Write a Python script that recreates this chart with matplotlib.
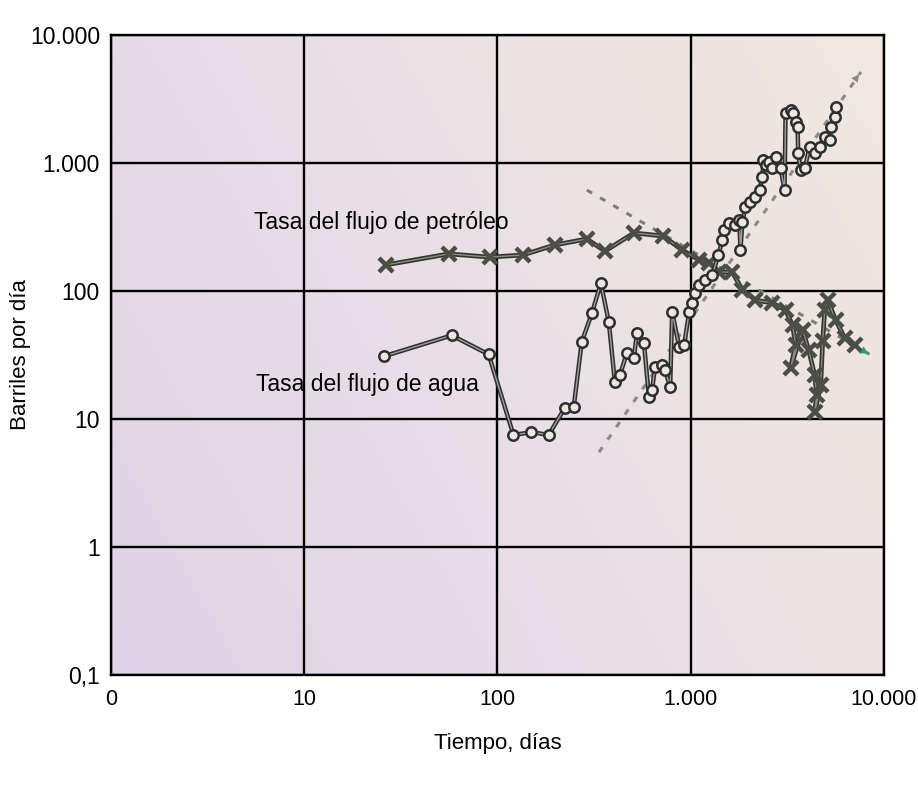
import matplotlib
matplotlib.use("Agg")
import matplotlib.pyplot as plt
import numpy as np
from matplotlib.colors import LinearSegmentedColormap

plt.rcParams['font.family'] = ['Liberation Sans', 'DejaVu Sans']

# tasa de agua (dias, bbl/d)
agua_dias = [26, 58, 90, 121, 150, 184, 223, 248, 273, 308, 343, 377, 405, 430,
             468, 508, 527, 573, 608, 631, 654, 711, 737, 783, 802, 872, 925,
             982, 1018, 1055, 1107, 1189, 1294, 1390, 1459, 1493, 1585, 1703,
             1786, 1808, 1852, 1919, 2037, 2163, 2270, 2351, 2380, 2466, 2556,
             2650, 2747, 2916, 3059, 3097, 3288, 3367, 3490, 3574, 3600, 3705,
             3890, 4128, 4382, 4652, 4939, 5241, 5306, 5564, 5631]
agua_bpd = [31, 45, 32, 7.5, 7.9, 7.5, 12.2, 12.4, 40, 67, 115, 57, 19.5, 22,
            33, 30, 47, 39, 14.9, 16.9, 25.5, 26.4, 24, 17.8, 68.5, 36.5, 37.8,
            68.5, 80, 96, 111, 122, 133, 191, 250, 300, 340, 328,
            359, 209, 346, 453, 496, 542, 615, 778, 1055, 965, 1018,
            914, 1113, 914, 615, 2458, 2594, 2458, 2090, 1910, 1197, 881,
            914, 1334, 1197, 1334, 1597, 1513, 1910, 2288, 2738]

# tasa de petroleo (dias, bbl/d)
pet_dias = [26.5, 56, 91, 135, 198, 290, 360, 508, 720, 903, 1107, 1247, 1406,
            1643, 1852, 2163, 2650, 3097, 3367, 3490, 3288, 3795, 4077, 4382,
            4487, 4382, 4707, 4821, 4939, 5118, 5631, 6268, 7064]
pet_bpd = [160, 195, 184, 191, 229, 255, 205, 284, 269, 209, 175, 166, 141,
           140, 102, 85, 80.5, 71, 54, 38, 25, 50, 34.6, 22,
           15.4, 11.3, 18.4, 41, 71, 85, 59, 43, 38]

# tendencias extrapoladas
tend_agua_x = [335, 7600]
tend_agua_y = [5.5, 5140]
tend_pet_x = [290, 8550]
tend_pet_y = [615, 31.6]

xticks = [1, 10, 100, 1000, 10000]
xlabels = ['0', '10', '100', '1.000', '10.000']
yticks = [0.1, 1, 10, 100, 1000, 10000]
ylabels = ['0,1', '1', '10', '100', '1.000', '10.000']

fig = plt.figure(figsize=(9.18, 7.85), dpi=100)
ax = fig.add_axes([0.1209, 0.1401, 0.8420, 0.8153])
ax.set_xscale('log')
ax.set_yscale('log')
ax.set_xlim(1, 10000)
ax.set_ylim(0.1, 10000)

# fondo degradado lila -> beige
cmap = LinearSegmentedColormap.from_list('fondo', ['#dcd3e6', '#e9e0e6', '#f1e8de'])
gx, gy = np.meshgrid(np.linspace(0, 1, 200), np.linspace(0, 1, 200))
grad = 0.75 * gx + 0.35 * gy
ax.imshow(grad, cmap=cmap, extent=[0, 1, 0, 1], transform=ax.transAxes,
          origin='lower', aspect='auto', zorder=0, interpolation='bilinear')

ax.grid(True, which='major', color='black', lw=1.7, zorder=1)
ax.minorticks_off()
ax.set_xticks(xticks)
ax.set_xticklabels(xlabels)
ax.set_yticks(yticks)
ax.set_yticklabels(ylabels)
ax.tick_params(axis='x', length=0, labelsize=15.5, pad=10)
ax.tick_params(axis='y', length=0, labelsize=16.5, pad=8)
for sp in ax.spines.values():
    sp.set_linewidth(1.7)

# lineas de tendencia
ax.plot(tend_agua_x, tend_agua_y, color='#8a8a86', lw=2.2, ls=(0, (2, 3)), zorder=2)
ax.annotate('', xy=(tend_agua_x[1], tend_agua_y[1]),
            xytext=(tend_agua_x[1] * 0.8, tend_agua_y[1] * 0.64),
            arrowprops=dict(arrowstyle='-|>', color='#8a8a86', lw=0, mutation_scale=14),
            zorder=2)
ax.plot(tend_pet_x, tend_pet_y, color='#7d8070', lw=2.2, ls=(0, (2, 3)), zorder=2)
ax.annotate('', xy=(tend_pet_x[1], tend_pet_y[1]),
            xytext=(tend_pet_x[1] * 0.85, tend_pet_y[1] * 1.15),
            arrowprops=dict(arrowstyle='-|>', color='#2aa060', lw=0, mutation_scale=14),
            zorder=4)

# petroleo
ax.plot(pet_dias, pet_bpd, color='#35372f', lw=3.4, zorder=3)
ax.plot(pet_dias, pet_bpd, color='#8c8c86', lw=1.0, zorder=3)
ax.plot(pet_dias, pet_bpd, ls='none', marker='x', ms=10, mew=3.2,
        color='#4b4e45', zorder=3)

# agua
ax.plot(agua_dias, agua_bpd, color='#2e2e2e', lw=3.2, zorder=3)
ax.plot(agua_dias, agua_bpd, color='#a0a0a0', lw=1.0, zorder=3)
ax.plot(agua_dias, agua_bpd, ls='none', marker='o', ms=7.5, mew=1.8,
        mec='#2e2e2e', mfc='#ebe7e2', zorder=3)

ax.text(5.47, 346, 'Tasa del flujo de petróleo', fontsize=16.5, va='center',
        ha='left', zorder=5)
ax.text(5.6, 18.5, 'Tasa del flujo de agua', fontsize=16.5, va='center',
        ha='left', zorder=5)

ax.set_xlabel('Tiempo, días', fontsize=16)
ax.set_ylabel('Barriles por día', fontsize=16)
ax.xaxis.set_label_coords(0.5, -0.0906)
ax.yaxis.set_label_coords(-0.1035, 0.5)

fig.savefig('out.png', dpi=100)
